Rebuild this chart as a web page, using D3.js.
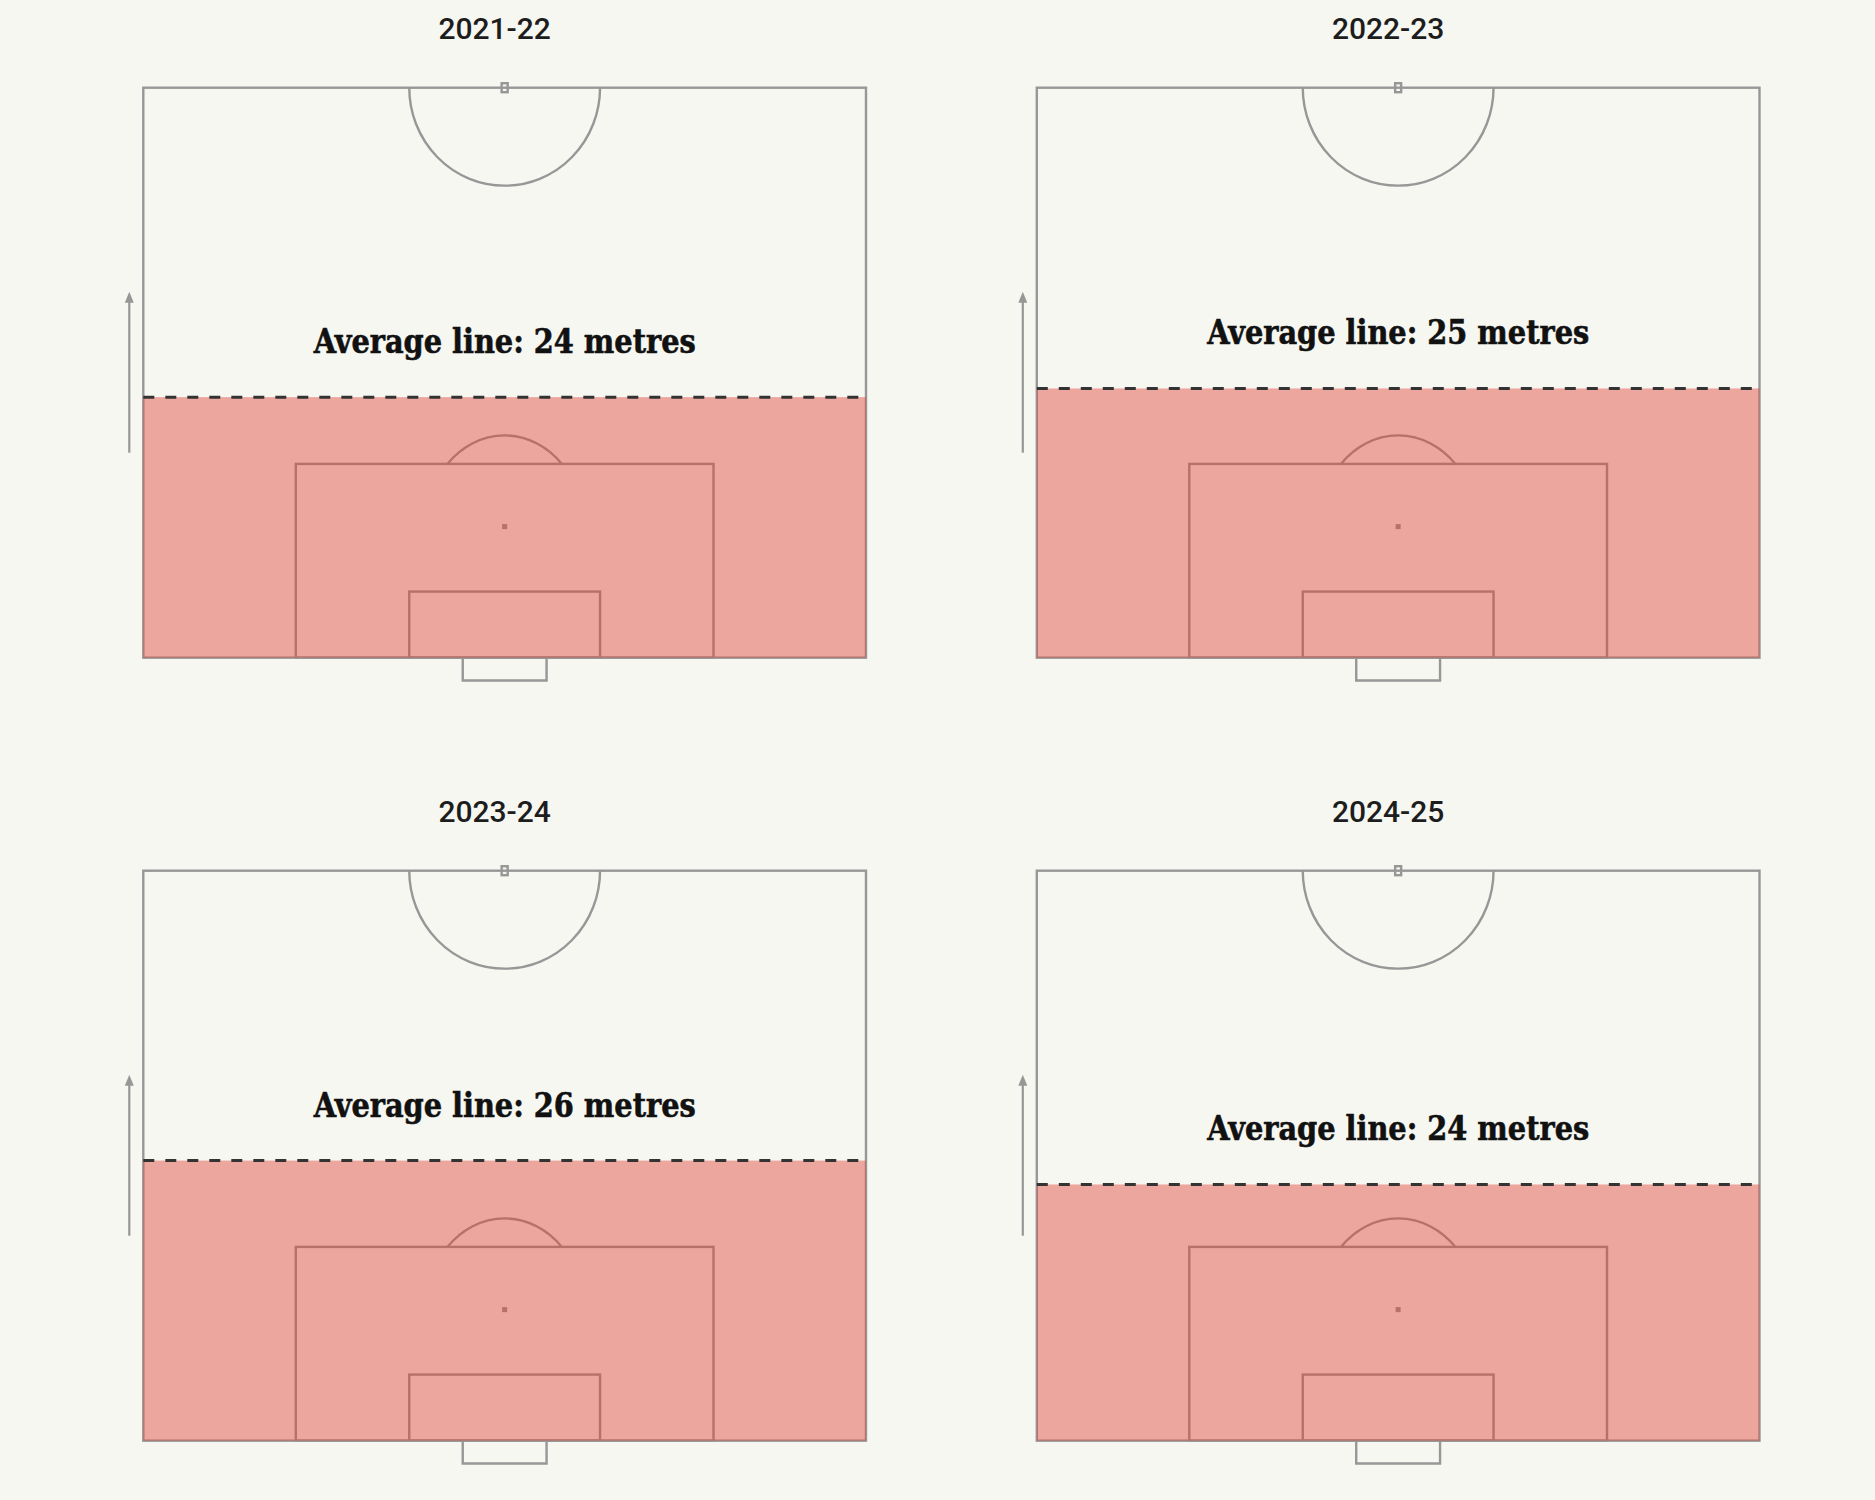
<!DOCTYPE html>
<html>
<head>
<meta charset="utf-8">
<script src="https://cdn.jsdelivr.net/npm/d3@7"></script>
<style>
  html, body { margin: 0; padding: 0; background: #f7f7f2; }
  svg { display: block; }
</style>
</head>
<body>
<div id="chart"></div>
<script>
// ---- data ----
const seasons = ["2021-22", "2022-23", "2023-24", "2024-25"];
const avgLineMetres = [24.0, 24.8, 25.8, 23.6];
const labelPrefix = "Average line: ";
const labelSuffix = " metres";

// ---- layout ----
const W = 1875, H = 1500;
const pitchW = 722.7, pitchH = 570;
const colX = d3.scaleOrdinal().domain([0, 1]).range([143.3, 1036.8]);
const rowY = d3.scaleOrdinal().domain([0, 1]).range([87.7, 870.7]);

const lineGray = "#979797";
const svg = d3.select("#chart").append("svg")
  .attr("width", W).attr("height", H);
svg.append("rect").attr("width", W).attr("height", H).attr("fill", "#f7f7f2");

// scales within a panel
const x = d3.scaleLinear().domain([0, 100]).range([0, pitchW]);      // pitch width (opta units)
const yU = d3.scaleLinear().domain([0, 50]).range([pitchH, 0]);      // half-pitch length (opta units from goal line)
const yM = d3.scaleLinear().domain([0, 52.5]).range([pitchH, 0]);    // half-pitch length in metres

seasons.forEach((season, i) => {
  const c = i % 2, r = Math.floor(i / 2);
  const g = svg.append("g").attr("transform", `translate(${colX(c)},${rowY(r)})`);
  const cx = x(50);

  // title
  g.append("text")
    .attr("x", cx - 10).attr("y", -48.4)
    .attr("text-anchor", "middle")
    .attr("font-family", "Roboto, 'Liberation Sans', sans-serif")
    .attr("font-weight", 500)
    .attr("font-size", 30)
    .attr("fill", "#1d1d1d")
    .text(season);

  // direction arrow
  g.append("line")
    .attr("x1", -14).attr("x2", -14)
    .attr("y1", 365).attr("y2", 212)
    .attr("stroke", lineGray).attr("stroke-width", 2.2);
  g.append("path")
    .attr("d", `M${-14},204 L${-18.5},215 L${-9.5},215 Z`)
    .attr("fill", lineGray);

  const lines = g.append("g")
    .attr("fill", "none").attr("stroke", lineGray).attr("stroke-width", 2.4);

  // outline
  lines.append("rect").attr("x", 0).attr("y", 0).attr("width", pitchW).attr("height", pitchH);

  // centre circle (lower half)
  const crx = x(13.2) - x(0), cry = yU(0) - yU(8.6);
  lines.append("path")
    .attr("d", `M${cx - crx},0 A${crx},${cry} 0 0 0 ${cx + crx},0`);
  // centre mark
  lines.append("rect").attr("x", cx - 3).attr("y", -4.5).attr("width", 6).attr("height", 9);

  // penalty box
  lines.append("rect")
    .attr("x", x(21.1)).attr("y", yU(17))
    .attr("width", x(78.9) - x(21.1)).attr("height", yU(0) - yU(17));
  // six-yard box
  lines.append("rect")
    .attr("x", x(36.8)).attr("y", yU(5.8))
    .attr("width", x(63.2) - x(36.8)).attr("height", yU(0) - yU(5.8));
  // penalty arc
  const sy = yU(11.5);
  const arx = x(10.9) - x(0), ary = yU(0) - yU(8.0);
  const dy = sy - yU(17);
  const hx = arx * Math.sqrt(1 - (dy / ary) * (dy / ary));
  lines.append("path")
    .attr("d", `M${cx - hx},${yU(17)} A${arx},${ary} 0 0 1 ${cx + hx},${yU(17)}`);
  // penalty spot
  g.append("rect").attr("x", cx - 2.5).attr("y", sy - 2.5).attr("width", 5).attr("height", 5)
    .attr("fill", lineGray);
  // goal
  lines.append("path")
    .attr("d", `M${x(44.2)},${pitchH} V${yU(-2)} H${x(55.8)} V${pitchH}`);

  // shaded area up to average line
  const v = avgLineMetres[i];
  g.append("rect")
    .attr("x", 0).attr("y", yM(v))
    .attr("width", pitchW).attr("height", yM(0) - yM(v))
    .attr("fill", "rgb(221,66,54)").attr("fill-opacity", 0.45);

  // dashed average line
  g.append("line")
    .attr("x1", 0).attr("x2", pitchW)
    .attr("y1", yM(v)).attr("y2", yM(v))
    .attr("stroke", "#333").attr("stroke-width", 3)
    .attr("stroke-dasharray", "11,11");

  // label
  g.append("text")
    .attr("x", cx).attr("y", yM(v) - 44)
    .attr("text-anchor", "middle")
    .attr("font-family", "'DejaVu Serif', serif")
    .attr("font-weight", "bold")
    .attr("font-stretch", "condensed")
    .attr("font-size", 34)
    .attr("textLength", 382)
    .attr("lengthAdjust", "spacingAndGlyphs")
    .attr("stroke", "#111").attr("stroke-width", 0.6)
    .attr("fill", "#111")
    .text(labelPrefix + Math.round(v) + labelSuffix);
});
</script>
</body>
</html>
